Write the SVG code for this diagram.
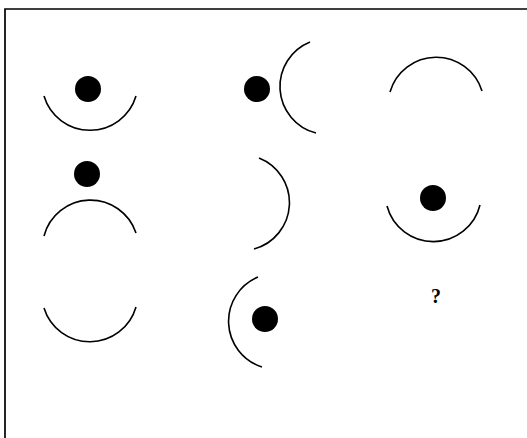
<svg xmlns="http://www.w3.org/2000/svg" width="527" height="438" viewBox="0 0 527 438">
<style>
.arc{fill:none;stroke:#000;stroke-width:1.6}
.dot{fill:#000}
.frame{fill:none;stroke:#000;stroke-width:1.7}
.q{font-family:"Liberation Serif",serif;font-weight:bold;font-size:20px;fill:#000}
</style>
<rect width="527" height="438" fill="#fff"/>
<path class="frame" d="M5,438 V9 H527"/>
<g id="fig1"><path class="arc" d="M44,96 A48,48 0 0 0 136,96"/><circle class="dot" cx="88" cy="89" r="13"/></g>
<g id="fig2"><path class="arc" d="M310,42 A48,48 0 0 0 316,133"/><circle class="dot" cx="257" cy="89" r="13"/></g>
<g id="fig3"><path class="arc" d="M390,92 A48,48 0 0 1 482,91"/></g>
<g id="fig4"><path class="arc" d="M44,236 A48,48 0 0 1 136,233"/><circle class="dot" cx="87" cy="174" r="13"/></g>
<g id="fig5"><path class="arc" d="M259,158 A48,48 0 0 1 254,249"/></g>
<g id="fig6"><path class="arc" d="M387,206 A48,48 0 0 0 480,205"/><circle class="dot" cx="433" cy="198" r="13"/></g>
<g id="fig7"><path class="arc" d="M44,308 A48,48 0 0 0 136,307"/></g>
<g id="fig8"><path class="arc" d="M258,277 A48,48 0 0 0 262,367"/><circle class="dot" cx="265" cy="319" r="13"/></g>
<g id="question"><text class="q" x="436" y="303" text-anchor="middle">?</text></g>
</svg>
